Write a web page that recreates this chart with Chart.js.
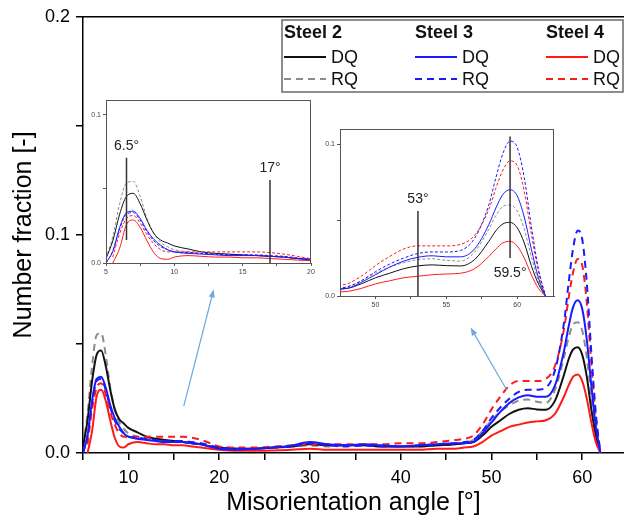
<!DOCTYPE html>
<html>
<head>
<meta charset="utf-8">
<script src="https://cdn.jsdelivr.net/npm/chart.js@4.4.1/dist/chart.umd.min.js"></script>
<style>
  html, body { margin: 0; padding: 0; background: #fff; }
  #wrap { position: relative; width: 624px; height: 523px; overflow: hidden; background: #fff; }
  #wrap canvas { position: absolute; }
</style>
</head>
<body>
<div id="wrap">
  <canvas id="main" width="624" height="523" style="left:0;top:0"></canvas>
  <canvas id="inset1" width="240" height="195" style="left:80px;top:92px"></canvas>
  <canvas id="inset2" width="250" height="195" style="left:314px;top:121px"></canvas>
</div>
<script>
// misorientation angle (deg)
const angles = [5, 5.5, 6, 6.5, 7, 7.5, 8, 8.5, 9, 9.5, 10, 11, 12, 13, 14, 15, 16, 17, 18, 19, 20,
  22, 24, 26, 28, 30, 32, 34, 36, 38, 40, 42, 44, 46, 47, 48, 49, 50, 51, 52, 53, 54, 55, 56, 57,
  58, 58.5, 59, 59.5, 60, 60.5, 61, 61.5, 62];

// number fraction
const steel2DQ = [0.003, 0.015, 0.033, 0.045, 0.047, 0.040, 0.029, 0.020, 0.0155, 0.0135, 0.0115, 0.0095, 0.0075, 0.0065, 0.006, 0.0055, 0.005, 0.0045, 0.004, 0.003, 0.0025,
  0.002, 0.002, 0.0025, 0.003, 0.004, 0.0035, 0.0035, 0.0035, 0.003, 0.003, 0.003, 0.0035, 0.004, 0.0045, 0.005, 0.008, 0.012, 0.015, 0.018, 0.0198, 0.0205, 0.020, 0.0198, 0.024,
  0.036, 0.043, 0.0475, 0.0485, 0.045, 0.035, 0.020, 0.008, 0];
const steel2RQ = [0.003, 0.018, 0.040, 0.054, 0.055, 0.045, 0.030, 0.020, 0.014, 0.011, 0.009, 0.0075, 0.0065, 0.006, 0.0055, 0.005, 0.005, 0.0045, 0.004, 0.003, 0.0025,
  0.002, 0.002, 0.0025, 0.003, 0.0035, 0.003, 0.0035, 0.0035, 0.003, 0.003, 0.003, 0.0035, 0.004, 0.0045, 0.006, 0.010, 0.015, 0.019, 0.022, 0.024, 0.0245, 0.0235, 0.023, 0.029,
  0.044, 0.053, 0.059, 0.060, 0.056, 0.044, 0.026, 0.010, 0];
const steel3DQ = [0, 0.008, 0.024, 0.034, 0.035, 0.030, 0.022, 0.016, 0.012, 0.009, 0.0075, 0.0065, 0.006, 0.0055, 0.005, 0.005, 0.005, 0.0045, 0.004, 0.003, 0.002,
  0.0015, 0.002, 0.0025, 0.0035, 0.005, 0.004, 0.0035, 0.004, 0.0035, 0.003, 0.0035, 0.004, 0.0045, 0.0045, 0.005, 0.009, 0.014, 0.019, 0.023, 0.0255, 0.0265, 0.0258, 0.0258, 0.031,
  0.047, 0.058, 0.067, 0.070, 0.066, 0.052, 0.031, 0.012, 0];
const steel3RQ = [0, 0.008, 0.023, 0.033, 0.034, 0.029, 0.021, 0.015, 0.011, 0.009, 0.0075, 0.007, 0.0065, 0.006, 0.0055, 0.0055, 0.0055, 0.005, 0.0045, 0.0035, 0.0025,
  0.002, 0.002, 0.0025, 0.003, 0.0045, 0.0035, 0.003, 0.0035, 0.003, 0.003, 0.0035, 0.004, 0.0045, 0.005, 0.006, 0.010, 0.016, 0.021, 0.025, 0.028, 0.029, 0.029, 0.030, 0.038,
  0.060, 0.078, 0.094, 0.102, 0.098, 0.078, 0.046, 0.018, 0];
const steel4DQ = [null, 0, 0.010, 0.026, 0.029, 0.024, 0.015, 0.007, 0.003, 0.0025, 0.004, 0.005, 0.0045, 0.004, 0.004, 0.0035, 0.0035, 0.003, 0.0025, 0.002, 0.0015,
  0.001, 0.001, 0.0012, 0.0015, 0.002, 0.0015, 0.0015, 0.0015, 0.0015, 0.0015, 0.0015, 0.002, 0.002, 0.0025, 0.003, 0.005, 0.008, 0.010, 0.012, 0.013, 0.014, 0.0145, 0.015, 0.018,
  0.026, 0.031, 0.035, 0.036, 0.033, 0.025, 0.014, 0.005, 0];
const steel4RQ = [null, 0.004, 0.020, 0.030, 0.032, 0.027, 0.019, 0.013, 0.009, 0.0075, 0.0075, 0.0075, 0.0075, 0.0075, 0.0075, 0.0075, 0.0075, 0.007, 0.006, 0.0045, 0.003,
  0.0025, 0.0025, 0.003, 0.0035, 0.004, 0.004, 0.004, 0.004, 0.004, 0.0045, 0.0045, 0.005, 0.006, 0.0065, 0.008, 0.013, 0.020, 0.026, 0.031, 0.033, 0.033, 0.033, 0.034, 0.040,
  0.057, 0.071, 0.083, 0.089, 0.086, 0.069, 0.041, 0.016, 0];

const steelNames = ['Steel 2', 'Steel 3', 'Steel 4'];
const xTicksMain = [5, 10, 15, 20, 25, 30, 35, 40, 45, 50, 55, 60];
const yTicksMain = [0, 0.05, 0.1, 0.15, 0.2];

const FONT = "'Liberation Sans', Arial, sans-serif";

const series = [
  { name: 'Steel 2 DQ', values: steel2DQ, color: '#111111', dashed: false, order: 4 },
  { name: 'Steel 2 RQ', values: steel2RQ, color: '#8c8c8c', dashed: true, order: 5 },
  { name: 'Steel 3 DQ', values: steel3DQ, color: '#1a1aff', dashed: false, order: 0 },
  { name: 'Steel 3 RQ', values: steel3RQ, color: '#1a1aff', dashed: true, order: 1 },
  { name: 'Steel 4 DQ', values: steel4DQ, color: '#ff1a1a', dashed: false, order: 2 },
  { name: 'Steel 4 RQ', values: steel4RQ, color: '#ff1a1a', dashed: true, order: 3 },
];

function buildDatasets(thin) {
  return series.map(s => ({
    label: s.name,
    data: angles.map((a, i) => ({ x: a, y: s.values[i] })),
    borderColor: s.color,
    borderWidth: thin ? 1 : 2,
    borderDash: s.dashed ? (thin ? [3, 2] : [7, 5]) : [],
    pointRadius: 0,
    cubicInterpolationMode: 'monotone',
    fill: false,
    order: s.order
  }));
}

// draws frame, legend, arrows and marker lines
const extras = {
  id: 'extras',
  afterDatasetsDraw(chart, args, o) {
    const ctx = chart.ctx, ca = chart.chartArea;
    const xs = chart.scales.x, ys = chart.scales.y;
    ctx.save();
    if (o.box) {
      ctx.strokeStyle = o.box.color; ctx.lineWidth = o.box.width;
      if (o.box.full) ctx.strokeRect(ca.left + 0.5, ca.top + 0.5, ca.right - ca.left - 1, ca.bottom - ca.top);
      else { ctx.beginPath(); ctx.moveTo(ca.left, ca.top); ctx.lineTo(ca.right, ca.top); ctx.stroke(); }
    }
    (o.markers || []).forEach(m => {
      const px = xs.getPixelForValue(m.x);
      const p1 = ys.getPixelForValue(m.y1), p2 = ys.getPixelForValue(m.y2);
      ctx.strokeStyle = '#333'; ctx.lineWidth = 1.5; ctx.setLineDash([]);
      ctx.beginPath(); ctx.moveTo(px, p1); ctx.lineTo(px, p2); ctx.stroke();
      ctx.fillStyle = '#222'; ctx.font = '14px ' + FONT; ctx.textAlign = 'center';
      if (m.below) { ctx.textBaseline = 'top'; ctx.fillText(m.label, px, Math.max(p1, p2) + 8); }
      else { ctx.textBaseline = 'bottom'; ctx.fillText(m.label, px, Math.min(p1, p2) - 5); }
    });
    (o.arrows || []).forEach(a => {
      const x1 = xs.getPixelForValue(a.x1), y1 = ys.getPixelForValue(a.y1);
      const x2 = xs.getPixelForValue(a.x2), y2 = ys.getPixelForValue(a.y2);
      const ang = Math.atan2(y2 - y1, x2 - x1);
      ctx.strokeStyle = '#6fa8dc'; ctx.fillStyle = '#6fa8dc'; ctx.lineWidth = 1.2;
      ctx.beginPath(); ctx.moveTo(x1, y1); ctx.lineTo(x2 - 5 * Math.cos(ang), y2 - 5 * Math.sin(ang)); ctx.stroke();
      ctx.beginPath();
      ctx.moveTo(x2, y2);
      ctx.lineTo(x2 - 8 * Math.cos(ang) + 3 * Math.sin(ang), y2 - 8 * Math.sin(ang) - 3 * Math.cos(ang));
      ctx.lineTo(x2 - 8 * Math.cos(ang) - 3 * Math.sin(ang), y2 - 8 * Math.sin(ang) + 3 * Math.cos(ang));
      ctx.closePath(); ctx.fill();
    });
    if (o.legend) {
      const L = o.legend;
      ctx.strokeStyle = '#6a6a6a'; ctx.lineWidth = 1.5;
      ctx.strokeRect(L.left, L.top, L.width, L.height);
      ctx.textBaseline = 'middle'; ctx.textAlign = 'left'; ctx.fillStyle = '#111';
      steelNames.forEach((name, c) => {
        const x0 = L.colX[c];
        ctx.font = 'bold 18px ' + FONT;
        ctx.fillText(name, x0, L.rowY[0]);
        ['DQ', 'RQ'].forEach((q, r) => {
          const ds = chart.data.datasets.find(d => d.label === name + ' ' + q);
          ctx.strokeStyle = ds.borderColor; ctx.lineWidth = 2; ctx.setLineDash(ds.borderDash);
          ctx.beginPath(); ctx.moveTo(x0, L.rowY[r + 1]); ctx.lineTo(x0 + 42, L.rowY[r + 1]); ctx.stroke();
          ctx.setLineDash([]);
          ctx.font = '18px ' + FONT;
          ctx.fillText(q, x0 + 47, L.rowY[r + 1] + 1);
        });
      });
    }
    ctx.restore();
  }
};

const axisStyle = (tickLen, color, w) => ({
  grid: { display: true, drawOnChartArea: false, drawTicks: true, tickLength: tickLen, color: color, lineWidth: w },
  border: { display: true, color: color, width: w }
});

new Chart(document.getElementById('main'), {
  type: 'line',
  data: { datasets: buildDatasets(false) },
  plugins: [extras],
  options: {
    responsive: false,
    animation: false,
    layout: { padding: { top: 16, left: 0, right: 0, bottom: 0 } },
    plugins: {
      legend: { display: false },
      tooltip: { enabled: false },
      extras: {
        box: { color: '#000', width: 1.5, full: false },
        arrows: [
          { x1: 16.1, y1: 0.0215, x2: 19.4, y2: 0.075 },
          { x1: 51.7, y1: 0.0288, x2: 47.7, y2: 0.0575 }
        ],
        legend: { left: 282, top: 20, width: 341, height: 72, colX: [284, 415, 546], rowY: [33, 57, 79] }
      }
    },
    scales: {
      x: Object.assign({
        type: 'linear', min: 5, max: 64.6,
        afterBuildTicks: ax => { ax.ticks = xTicksMain.map(v => ({ value: v })); },
        ticks: { callback: v => (v % 10 === 0 ? String(v) : ''), font: { family: FONT, size: 18 }, color: '#000', padding: 7, maxRotation: 0, autoSkip: false },
        title: { display: true, text: 'Misorientation angle [°]', font: { family: FONT, size: 25 }, color: '#000', padding: { top: 0, bottom: 5 } },
        afterFit: s => { s.height = 70; }
      }, axisStyle(7, '#000', 1.5)),
      y: Object.assign({
        min: 0, max: 0.2,
        afterBuildTicks: ax => { ax.ticks = yTicksMain.map(v => ({ value: v })); },
        ticks: { callback: v => (Math.round(v * 100) % 10 === 0 ? v.toFixed(1) : ''), font: { family: FONT, size: 18 }, color: '#000', padding: 6 },
        title: { display: true, text: 'Number fraction [-]', font: { family: FONT, size: 25 }, color: '#000', padding: { top: 9, bottom: 0 } },
        afterFit: s => { s.width = 83; }
      }, axisStyle(7, '#000', 1.5))
    }
  }
});

function makeInset(id, xmin, xmax, xTicks, pad, yW, xH, markers) {
  new Chart(document.getElementById(id), {
    type: 'line',
    data: { datasets: buildDatasets(true) },
    plugins: [extras],
    options: {
      responsive: false,
      animation: false,
      layout: { padding: pad },
      plugins: {
        legend: { display: false },
        tooltip: { enabled: false },
        extras: { box: { color: '#555', width: 1, full: true }, markers: markers }
      },
      scales: {
        x: Object.assign({
          type: 'linear', min: xmin, max: xmax,
          afterBuildTicks: ax => { ax.ticks = xTicks.map(v => ({ value: v })); },
          ticks: { callback: v => (v % 5 === 0 ? String(v) : ''), font: { family: FONT, size: 7 }, color: '#444', padding: 2, maxRotation: 0, autoSkip: false },
          afterFit: s => { s.height = xH; }
        }, axisStyle(3, '#555', 1)),
        y: Object.assign({
          min: 0, max: 0.11,
          afterBuildTicks: ax => { ax.ticks = [0, 0.05, 0.1].map(v => ({ value: v })); },
          ticks: { callback: v => (Math.round(v * 100) % 10 === 0 ? v.toFixed(1) : ''), font: { family: FONT, size: 7 }, color: '#444', padding: 2 },
          afterFit: s => { s.width = yW; }
        }, axisStyle(3, '#555', 1))
      }
    }
  });
}

makeInset('inset1', 5, 20, [5, 7.5, 10, 12.5, 15, 17.5, 20], { top: 8, right: 9, left: 0, bottom: 0 }, 26, 24, [
  { x: 6.5, y1: 0.0155, y2: 0.071, label: '6.5°' },
  { x: 17, y1: 0, y2: 0.056, label: '17°' }
]);
makeInset('inset2', 47.5, 62.6, [50, 52.5, 55, 57.5, 60], { top: 8, right: 10, left: 0, bottom: 0 }, 26, 20, [
  { x: 53, y1: 0, y2: 0.056, label: '53°' },
  { x: 59.5, y1: 0.025, y2: 0.105, label: '59.5°', below: true }
]);
</script>
</body>
</html>
